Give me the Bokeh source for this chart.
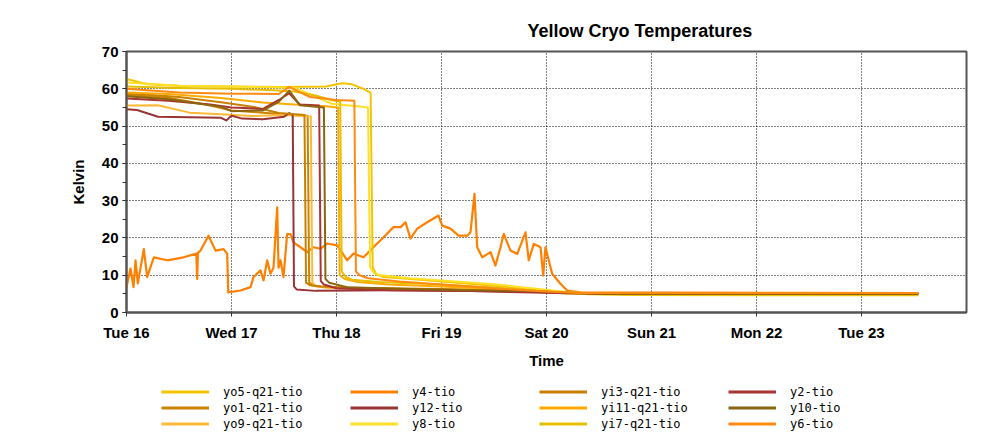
import numpy as np
import pandas as pd
from datetime import datetime, timedelta
from bokeh.plotting import figure
from bokeh.layouts import column
from bokeh.models import (Legend, LegendItem, FixedTicker, SingleIntervalTicker,
                          DatetimeTickFormatter, Range1d)
from bokeh.embed import file_html
from bokeh.resources import INLINE

START = datetime(2003, 12, 16)

# ---- data: time in days since Tue 16 00:00, temperature in Kelvin ----
y4_t = [0.000, 0.038, 0.067, 0.086, 0.108, 0.165, 0.197, 0.260, 0.388, 0.543, 0.665, 0.673, 0.680,
        0.705, 0.781, 0.848, 0.924, 0.959, 0.969, 1.086, 1.181, 1.210, 1.276, 1.305, 1.340, 1.371,
        1.400, 1.435, 1.448, 1.467, 1.495, 1.530, 1.562, 1.590, 1.657, 1.721, 1.781, 1.848, 1.911,
        2.007, 2.102, 2.162, 2.257, 2.352, 2.448, 2.543, 2.610, 2.657, 2.705, 2.769, 2.864, 2.924,
        2.971, 3.007, 3.086, 3.162, 3.245, 3.276, 3.314, 3.340, 3.388, 3.467, 3.514, 3.562, 3.593,
        3.657, 3.721, 3.800, 3.831, 3.879, 3.943, 3.969, 3.990, 4.054, 4.133, 4.197, 4.324, 7.543]
y4_v = [6.8, 11.8, 6.8, 14.0, 7.8, 17.0, 9.5, 14.8, 14.0, 14.8, 15.8, 9.0, 16.0,
        16.6, 20.6, 16.6, 17.0, 15.8, 5.4, 5.9, 6.8, 9.5, 11.3, 8.6, 14.0, 10.4,
        12.0, 28.2, 12.0, 14.0, 9.5, 21.0, 21.0, 18.8, 17.5, 16.2, 17.5, 17.1, 18.5,
        18.0, 14.0, 15.8, 14.8, 17.5, 20.2, 22.9, 22.9, 24.2, 19.8, 22.5, 24.2, 25.2,
        26.0, 23.3, 22.5, 20.6, 20.6, 21.5, 31.8, 17.5, 14.8, 16.2, 12.6, 17.5, 21.1,
        16.6, 15.7, 21.5, 14.0, 18.4, 17.5, 9.9, 17.5, 10.4, 7.7, 5.9, 5.4, 5.2]

yo5_t = [0, 0.2, 0.5, 1.0, 1.5, 1.9, 2.05, 2.15, 2.27, 2.325, 2.345, 2.38, 2.45, 2.7, 3.0, 3.5, 3.8, 4.1, 4.4, 4.8, 7.54]
yo5_v = [62.6, 61.2, 60.8, 60.6, 60.5, 60.6, 61.5, 61.2, 59.8, 59.0, 12.0, 10.2, 9.5, 9.0, 8.3, 7.2, 6.3, 5.5, 5.0, 4.7, 4.6]

y8_t = [0, 0.5, 1.2, 1.6, 1.75, 1.95, 2.2, 2.30, 2.32, 2.36, 2.42, 2.7, 3.0, 3.5, 3.9, 4.2, 4.5, 7.54]
y8_v = [61.7, 60.8, 60.5, 60.3, 58.5, 56.0, 55.3, 55.0, 12.0, 10.5, 10.0, 9.2, 8.6, 7.6, 6.4, 5.5, 4.9, 4.8]

yi7_t = [0, 0.5, 1.0, 1.4, 1.6, 1.8, 1.95, 2.035, 2.05, 2.09, 2.15, 2.4, 3.0, 3.5, 4.0, 4.4, 7.54]
yi7_v = [60.6, 60.2, 60.0, 59.6, 59.3, 58.2, 57.0, 56.5, 11.0, 9.5, 8.8, 8.2, 7.5, 6.7, 5.6, 4.9, 4.7]

y6_t = [0, 0.5, 1.0, 1.45, 1.55, 1.62, 1.75, 2.0, 2.17, 2.185, 2.22, 2.3, 2.6, 3.0, 3.5, 4.0, 4.3, 7.54]
y6_v = [60.0, 59.0, 58.7, 58.6, 60.5, 59.5, 57.8, 57.0, 56.8, 11.0, 10.0, 9.2, 8.3, 7.5, 6.5, 5.6, 5.2, 5.2]

yi11_t = [0, 0.4, 0.9, 1.3, 1.6, 1.9, 2.015, 2.03, 2.08, 2.2, 2.5, 3.0, 3.6, 4.1, 4.4, 7.54]
yi11_v = [59.0, 58.6, 57.5, 56.3, 55.8, 55.3, 55.0, 10.0, 9.0, 8.2, 7.5, 7.0, 6.2, 5.4, 5.0, 5.0]

yi3_t = [0, 0.5, 0.9, 1.2, 1.45, 1.695, 1.71, 1.75, 1.85, 2.2, 3.0, 3.6, 4.2, 7.54]
yi3_v = [58.8, 57.8, 56.4, 55.2, 53.5, 53.0, 8.0, 7.3, 7.0, 6.6, 6.3, 6.0, 5.2, 5.0]

yo1_t = [0, 0.4, 0.8, 1.0, 1.3, 1.5, 1.725, 1.74, 1.78, 1.9, 2.3, 3.0, 3.7, 4.2, 7.54]
yo1_v = [58.4, 57.6, 55.5, 54.2, 53.6, 53.2, 52.8, 8.0, 7.2, 6.8, 6.5, 6.2, 5.8, 5.1, 5.0]

yo9_t = [0, 0.3, 0.6, 0.9, 1.2, 1.5, 1.755, 1.77, 1.81, 1.95, 2.4, 3.2, 3.8, 4.3, 7.54]
yo9_v = [55.5, 55.6, 53.6, 53.2, 52.7, 53.0, 52.6, 8.0, 7.0, 6.6, 6.3, 6.0, 5.6, 5.0, 4.9]

y2_t = [0, 0.4, 0.8, 1.0, 1.3, 1.45, 1.55, 1.65, 1.835, 1.85, 1.88, 2.0, 2.5, 3.2, 4.0, 4.5, 7.54]
y2_v = [57.4, 56.8, 55.8, 55.0, 54.6, 57.0, 58.8, 55.8, 55.5, 8.5, 7.5, 6.5, 6.0, 5.8, 5.3, 5.0, 5.0]

y10_t = [0, 0.4, 0.9, 1.0, 1.3, 1.45, 1.55, 1.65, 1.88, 1.895, 1.93, 2.1, 2.6, 3.2, 3.8, 4.5, 7.54]
y10_v = [58.0, 57.2, 55.2, 54.0, 54.2, 56.5, 59.5, 55.6, 55.0, 9.0, 8.0, 6.8, 6.4, 6.0, 5.8, 5.0, 5.0]

y12_t = [0, 0.1, 0.3, 0.9, 0.95, 1.0, 1.1, 1.3, 1.5, 1.55, 1.583, 1.595, 1.62, 1.8, 2.5, 3.5, 4.0, 4.5, 7.54]
y12_v = [54.5, 54.3, 52.5, 52.2, 51.5, 52.8, 52.0, 51.8, 52.5, 53.5, 53.0, 7.0, 6.2, 5.8, 6.0, 5.7, 5.4, 5.0, 5.0]

tick_days = [16, 17, 18, 19, 20, 21, 22, 23]

# name, times, values, colour  (legend order: column-major, 3 rows)
series = [
    ("yo5-q21-tio", yo5_t, yo5_v, "#F2C500"),
    ("yo1-q21-tio", yo1_t, yo1_v, "#CC8400"),
    ("yo9-q21-tio", yo9_t, yo9_v, "#FFB934"),
    ("y4-tio", y4_t, y4_v, "#FF8000"),
    ("y12-tio", y12_t, y12_v, "#993333"),
    ("y8-tio", y8_t, y8_v, "#FFE026"),
    ("yi3-q21-tio", yi3_t, yi3_v, "#C88000"),
    ("yi11-q21-tio", yi11_t, yi11_v, "#FFAA00"),
    ("yi7-q21-tio", yi7_t, yi7_v, "#E6C000"),
    ("y2-tio", y2_t, y2_v, "#AA3333"),
    ("y10-tio", y10_t, y10_v, "#8B6410"),
    ("y6-tio", y6_t, y6_v, "#FF8A10"),
]


def to_dt(days):
    return [START + timedelta(days=float(d)) for d in days]


MAIN_H = 380
p = figure(width=1004, height=MAIN_H, x_axis_type="datetime",
           x_range=Range1d(START, START + timedelta(days=8)),
           y_range=Range1d(0, 70),
           output_backend="svg", toolbar_location=None,
           min_border_left=126, min_border_right=38, min_border_top=51,
           min_border_bottom=MAIN_H - 312,
           background_fill_color="white", border_fill_color="white")

p.title.text = "Yellow Cryo Temperatures"
p.title.text_font = "Liberation Sans"
p.title.text_font_size = "18px"
p.title.text_font_style = "bold"
p.title.text_color = "black"
p.title.align = "left"
p.title.offset = 401
p.title.standoff = 21

order = ["y4-tio"] + [s[0] for s in series if s[0] != "y4-tio"]
lookup = {s[0]: s for s in series}
for name in order:
    _, t, v, c = lookup[name]
    p.line(to_dt(t), v, line_color=c, line_width=2.2 if name == "y4-tio" else 2.0,
           line_join="round")

# axes
p.xaxis.ticker = FixedTicker(ticks=[(START + timedelta(days=d - 16)).timestamp() * 1000 for d in tick_days])
p.xaxis.formatter = DatetimeTickFormatter(days="%a %d", hours="%a %d", months="%a %d")
p.yaxis.ticker = SingleIntervalTicker(interval=10, num_minor_ticks=2)
p.xaxis.axis_label = "Time"
p.yaxis.axis_label = "Kelvin"
for ax in (p.xaxis[0], p.yaxis[0]):
    ax.axis_line_color = "#555555"
    ax.axis_line_width = 2
    ax.major_tick_line_color = "#333333"
    ax.minor_tick_line_color = "#333333"
    ax.major_tick_in = 0
    ax.major_tick_out = 4
    ax.minor_tick_in = 0
    ax.minor_tick_out = 4
    ax.major_label_text_font = "Liberation Sans"
    ax.major_label_text_font_style = "bold"
    ax.major_label_text_font_size = "15px"
    ax.major_label_text_color = "black"
    ax.axis_label_text_font = "Liberation Sans"
    ax.axis_label_text_font_style = "bold"
    ax.axis_label_text_font_size = "15px"
    ax.axis_label_text_color = "black"
p.xaxis.minor_tick_out = 0
p.xaxis.major_label_standoff = 7
p.xaxis.axis_label_standoff = 8
p.yaxis.major_label_standoff = 4
p.yaxis.axis_label_standoff = 12

p.grid.grid_line_color = "black"
p.grid.grid_line_dash = "1 2"
p.grid.grid_line_width = 1
p.outline_line_color = "#555555"
p.outline_line_width = 2

# ---- legend strip below the chart (own small figure, same series colours) ----
LEG_H = 441 - MAIN_H
lg = figure(width=1004, height=LEG_H, x_range=Range1d(0, 1), y_range=Range1d(0, 1),
            output_backend="svg", toolbar_location=None,
            x_axis_location=None, y_axis_location=None,
            min_border=0, outline_line_color=None,
            background_fill_color="white", border_fill_color="white")
lg.grid.visible = False
items = []
for name, t, v, c in series:
    # key swatch only: the line sits outside the visible range of this strip
    r = lg.line([-10, -9], [-10, -9], line_color=c, line_width=3)
    items.append(LegendItem(label=name, renderers=[r]))
legend = Legend(items=items, orientation="vertical", nrows=3,
                location=(35, 10), padding=0, margin=0, spacing=1,
                glyph_width=48, glyph_height=15, label_height=15, label_width=126,
                label_standoff=14, label_text_font="DejaVu Sans Mono",
                label_text_font_size="12px", label_text_color="black",
                border_line_color=None, background_fill_alpha=0)
lg.add_layout(legend, "center")

open("out.html", "w").write(file_html(column(p, lg, spacing=0), INLINE))
